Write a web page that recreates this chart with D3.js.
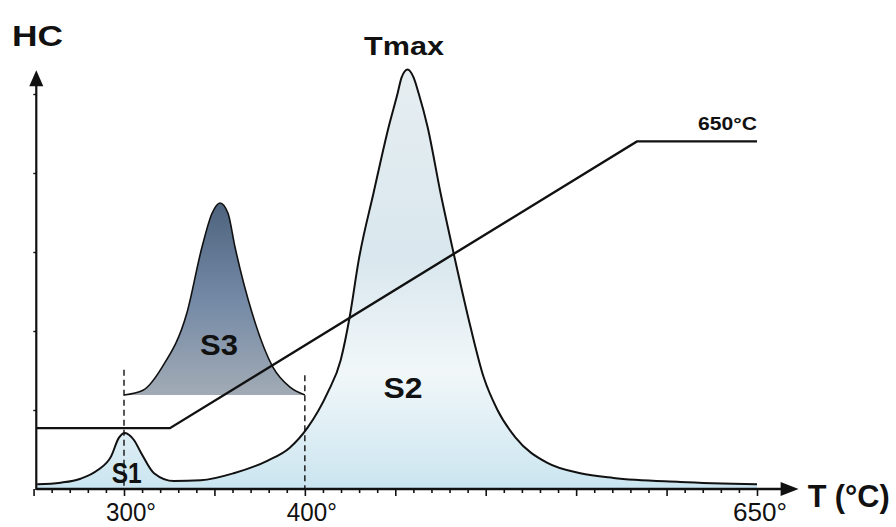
<!DOCTYPE html>
<html>
<head>
<meta charset="utf-8">
<script src="https://cdn.jsdelivr.net/npm/d3@7"></script>
<style>
body{margin:0;background:#fff;}
svg{display:block;font-family:"Liberation Sans",Arial,sans-serif;}
</style>
</head>
<body>
<div id="plot"></div>
<script>
// pyrolysis trace: temperature (°C) against HC signal (arbitrary units)
let tempS12 = [252, 265, 276, 285.5, 292.8, 297.2, 300.5, 305.5, 309.4, 316.6,
               327.6, 342.5, 360.7, 379.5, 391.5, 401.6, 412.6, 419.8, 424.8, 429.8,
               438, 446.3, 451.3, 453.5, 456.8, 460.1, 462.9, 467.9, 475, 482.2,
               491.6, 498.8, 506.5, 516.5, 534.1, 552.3, 570.6, 607.6, 650];
let hcS12 = [0.06, 0.08, 0.13, 0.24, 0.41, 0.65, 0.71, 0.62, 0.46, 0.20,
             0.10, 0.11, 0.20, 0.36, 0.52, 0.78, 1.22, 1.63, 2.18, 2.90,
             3.75, 4.58, 5.01, 5.21, 5.31, 5.21, 5.01, 4.58, 3.75, 2.99,
             2.05, 1.42, 1.00, 0.65, 0.33, 0.20, 0.14, 0.09, 0.06];

let tempS3 = [300, 310.5, 321, 334.8, 343.1, 348.7, 353.1, 357.5, 361.4, 370.8, 382.4, 391.8, 400];
let hcS3 = [1.19, 1.25, 1.54, 2.23, 3.06, 3.49, 3.62, 3.49, 3.06, 2.23, 1.54, 1.29, 1.19];
let s3Base = 1.19;

// oven program
let rampTemp = [251.5, 325.4, 583.6, 650];
let rampHC = [0.77, 0.77, 4.40, 4.40];

let cutTemps = [300, 400];
let cutTops = [1.51, 1.44];

let labelTemps = [300, 400, 650];
let labelText = ["300°", "400°", "650°"];

let svgWidth = 896;
let svgHeight = 527;

let x = d3.scaleLinear()
            .domain([300, 650])
            .range([124, 757]);
let y = d3.scaleLinear()
            .domain([0, 5])
            .range([489, 94]);

let originT = 251.5;
let xEndT = 673;
let yTopHC = 5.3;

let svg = d3.select('#plot')
            .append('svg')
            .attr('width', svgWidth)
            .attr('height', svgHeight);

let defs = svg.append('defs');
let g2 = defs.append('linearGradient')
            .attr('id', 'fillS2')
            .attr('x1', 0).attr('y1', 0).attr('x2', 0).attr('y2', 1);
[[0, '#e6eef1'], [0.45, '#d9e7ee'], [0.72, '#f1f7f9'], [0.88, '#dcedf4'], [1, '#cae5f0']]
    .forEach(s => g2.append('stop').attr('offset', s[0]).attr('stop-color', s[1]));
let g3 = defs.append('linearGradient')
            .attr('id', 'fillS3')
            .attr('x1', 0).attr('y1', 0).attr('x2', 0).attr('y2', 1);
[[0, '#4e637d'], [0.5, '#7389a6'], [1, '#a2abb5']]
    .forEach(s => g3.append('stop').attr('offset', s[0]).attr('stop-color', s[1]));

let s12 = tempS12.map((t, i) => [t, hcS12[i]]);
let s3 = tempS3.map((t, i) => [t, hcS3[i]]);
let curve = d3.curveMonotoneX;

// filled areas
svg.append('path')
    .datum(s12)
    .attr('fill', 'url(#fillS2)')
    .attr('d', d3.area().curve(curve).x(d => x(d[0])).y0(y(0)).y1(d => y(d[1])));

svg.append('path')
    .datum(s3)
    .attr('fill', 'url(#fillS3)')
    .attr('d', d3.area().curve(curve).x(d => x(d[0])).y0(y(s3Base)).y1(d => y(d[1])));

// dashed cut lines
svg.selectAll('.cut')
    .data(cutTemps)
    .enter().append('line')
    .attr('x1', d => x(d)).attr('x2', d => x(d))
    .attr('y1', (d, i) => y(cutTops[i])).attr('y2', y(0))
    .attr('stroke', '#111')
    .attr('stroke-width', 1.4)
    .attr('stroke-dasharray', '6,4');

let line = d3.line().curve(curve).x(d => x(d[0])).y(d => y(d[1]));

svg.append('path')
    .datum(s12)
    .attr('fill', 'none')
    .attr('stroke', '#111')
    .attr('stroke-width', 2)
    .attr('d', line);

svg.append('path')
    .datum(s3)
    .attr('fill', 'none')
    .attr('stroke', '#111')
    .attr('stroke-width', 1.6)
    .attr('d', line);

svg.append('path')
    .datum(rampTemp.map((t, i) => [t, rampHC[i]]))
    .attr('fill', 'none')
    .attr('stroke', '#111')
    .attr('stroke-width', 2.4)
    .attr('d', d3.line().x(d => x(d[0])).y(d => y(d[1])));

// axes
let xAxis = d3.axisBottom(x)
                .tickValues(d3.range(250, 651, 10))
                .tickSize(4)
                .tickFormat('');
let xg = svg.append('g')
            .attr('transform', `translate(0,${y(0)})`)
            .call(xAxis);
xg.select('.domain').remove();
xg.selectAll('.tick line')
    .attr('stroke', '#111')
    .attr('stroke-width', 1.6)
    .attr('y2', d => d % 50 === 0 ? 7 : 4);

let yAxis = d3.axisLeft(y)
                .tickValues([1, 2, 3, 4, 5])
                .tickSize(3)
                .tickFormat('');
let yg = svg.append('g')
            .attr('transform', `translate(${x(originT)},0)`)
            .call(yAxis);
yg.select('.domain').remove();
yg.selectAll('.tick line').attr('stroke', '#111').attr('stroke-width', 1.4);

svg.append('line')
    .attr('x1', x(originT)).attr('x2', x(xEndT) - 14)
    .attr('y1', y(0)).attr('y2', y(0))
    .attr('stroke', '#111').attr('stroke-width', 2.6);
svg.append('line')
    .attr('x1', x(originT)).attr('x2', x(originT))
    .attr('y1', y(0) + 1).attr('y2', y(yTopHC) + 12)
    .attr('stroke', '#111').attr('stroke-width', 2.2);

// arrow heads
svg.append('path')
    .attr('d', `M${x(xEndT)},${y(0)} L${x(xEndT) - 18},${y(0) - 7} L${x(xEndT) - 18},${y(0) + 7} Z`)
    .attr('fill', '#111');
svg.append('path')
    .attr('d', `M${x(originT)},${y(yTopHC)} L${x(originT) - 7},${y(yTopHC) + 16} L${x(originT) + 7},${y(yTopHC) + 16} Z`)
    .attr('fill', '#111');

// tick labels
svg.selectAll('.tlabel')
    .data(labelTemps)
    .enter().append('text')
    .attr('x', d => x(d) - (d === 650 ? 24 : 18))
    .attr('y', 521)
    .attr('font-size', 25)
    .attr('textLength', (d, i) => i === 2 ? 54 : 50)
    .attr('lengthAdjust', 'spacingAndGlyphs')
    .attr('fill', '#111')
    .text((d, i) => labelText[i]);

function label(txt, t, hc, size, len, anchor) {
    svg.append('text')
        .attr('x', x(t))
        .attr('y', y(hc))
        .attr('font-size', size)
        .attr('font-weight', 'bold')
        .attr('text-anchor', anchor || 'middle')
        .attr('textLength', len)
        .attr('lengthAdjust', 'spacingAndGlyphs')
        .attr('fill', '#111')
        .text(txt);
}

label('S1', 301.5, 0.08, 29, 30);
label('S2', 454.3, 1.15, 30, 39);
label('S3', 352.5, 1.70, 30, 38);
label('Tmax', 454.8, 5.49, 25, 80);
label('650°C', 650, 4.54, 19, 59, 'end');
label('T (°C)', 678, -0.23, 31, 82, 'start');

svg.append('text')
    .attr('x', 12).attr('y', 46)
    .attr('font-size', 29)
    .attr('font-weight', 'bold')
    .attr('textLength', 51)
    .attr('lengthAdjust', 'spacingAndGlyphs')
    .attr('fill', '#111')
    .text('HC');
</script>
</body>
</html>
